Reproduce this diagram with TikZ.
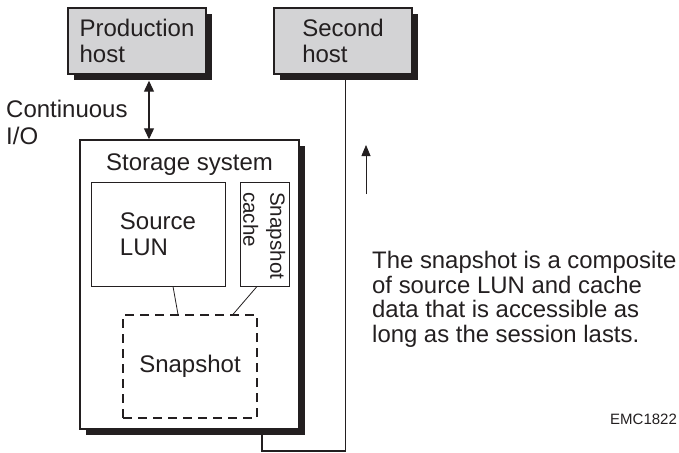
\documentclass[tikz,border=0pt]{standalone}
\usepackage{fontspec}
\setmainfont{Liberation Sans}
\usetikzlibrary{arrows.meta,calc,shadows}
\definecolor{hostgray}{RGB}{211,211,213}
\definecolor{ink}{RGB}{35,31,32}
\begin{document}
\begin{tikzpicture}[x=1pt,y=-1pt,
  every node/.style={inner sep=0pt, text=ink},
  mainfont/.style={font=\fontsize{24}{26.5}\selectfont},
  boxshadow/.style={general shadow={fill=ink, shadow xshift=6pt, shadow yshift=-6pt}},
  hostbox/.style={draw=ink, line width=1.4pt, fill=hostgray, boxshadow,
    minimum width=138pt, minimum height=66pt, align=left, mainfont},
  storebox/.style={draw=ink, line width=1.4pt, fill=white, boxshadow,
    minimum width=219pt, minimum height=289pt},
  lunbox/.style={draw=ink, line width=0.9pt, fill=white, align=left, mainfont},
  snapbox/.style={draw=ink, line width=1.3pt, dash pattern=on 9pt off 6pt,
    minimum width=134pt, minimum height=103pt, mainfont},
  link/.style={draw=ink, line width=0.8pt},
  wire/.style={draw=ink, line width=1.2pt},
  iotip/.tip={Triangle[length=11pt,width=10pt]}
]
\useasboundingbox (0,0) rectangle (679,452);

% hosts
\node[hostbox] (prod)  at (137,41) {Production\\host};
\node[hostbox] (host2) at (343,41) {Second\\host};

% storage system with its volumes
\node[storebox] (stor) at (189.5,284.5) {};
\node[mainfont, anchor=base] (storlbl) at (189.5,170) {Storage system};
\node[lunbox, minimum width=134pt, minimum height=104pt] (src) at (158,234) {Source\\LUN};
\node[lunbox, minimum width=49pt, minimum height=104pt] (cache) at (264.5,234) {};
\node[font=\fontsize{20.6}{27}\selectfont, align=left, rotate=-90, anchor=north west]
  (cachelbl) at (285.5,192) {Snapshot\\cache};
\node[snapbox] (snap) at (190,366.5) {Snapshot};

\draw[link] ($(src.south)+(15,0)$) -- ($(snap.north)+(-12,0)$);
\draw[link] ($(cache.south)+(-7.5,0)$) -- ($(snap.north)+(43,0)$);

% continuous I/O between production host and storage
\coordinate (ioTop) at ($(prod.south)+(12,6)$);
\draw[wire, iotip-iotip] (ioTop) -- (ioTop |- stor.north);
\node[mainfont, align=left, anchor=north west] (iolbl) at (6,100) {Continuous\\I/O};

% snapshot path to the second host
\coordinate (leave) at ($(stor.south)+(72.5,0)$);
\coordinate (bend) at (345.5,451);
\draw[wire] (leave) |- (bend) -- (bend |- host2.south);

\coordinate (upA) at (366,194);
\coordinate (upB) at (366,145);
\draw[link, -{Triangle[length=11pt,width=9pt]}] (upA) -- (upB);

\node[font=\fontsize{23.9}{24.6}\selectfont, align=left, anchor=north west] (note) at (372,251)
  {The snapshot is a composite\\of source LUN and cache\\data that is accessible as\\long as the session lasts.};

\node[font=\fontsize{15}{18}\selectfont, anchor=base west] (code) at (610,424) {EMC1822};
\end{tikzpicture}
\end{document}
